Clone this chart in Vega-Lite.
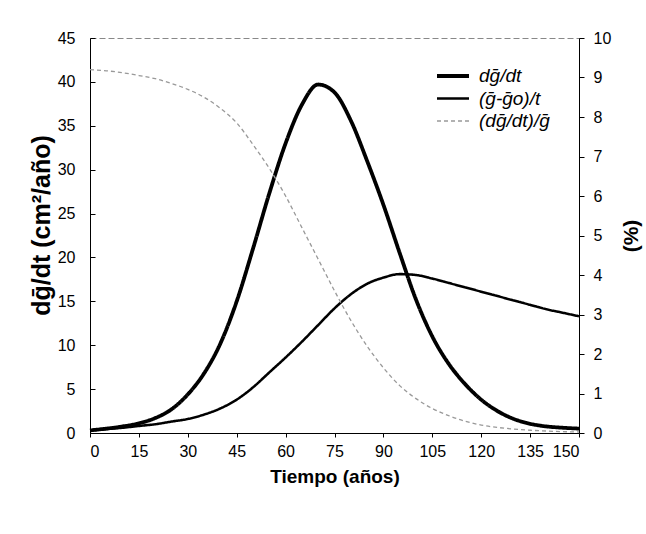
{
  "$schema": "https://vega.github.io/schema/vega-lite/v6.json",
  "width": 489,
  "height": 395,
  "autosize": {"type": "none"},
  "padding": {"left": 90, "top": 38, "right": 67, "bottom": 101},
  "background": "white",
  "config": {
    "font": "Liberation Sans",
    "view": {"stroke": "#888888", "strokeDash": [6, 3]},
    "axis": {
      "domainColor": "black",
      "tickColor": "black",
      "labelColor": "black",
      "titleColor": "black",
      "grid": false,
      "labelFont": "Liberation Sans",
      "titleFont": "Liberation Sans",
      "labelFontSize": 16,
      "titleFontSize": 19,
      "titleFontWeight": "bold"
    },
    "legend": {
      "orient": "none",
      "legendX": 351,
      "legendY": 26,
      "symbolType": "M-1.6,0H1.6",
      "symbolSize": 400,
      "labelFontSize": 19,
      "labelFontStyle": "italic",
      "labelFont": "Liberation Sans",
      "labelColor": "black",
      "labelOffset": 14,
      "rowPadding": 1
    }
  },
  "datasets": {
    "curves": [
      {"t": 0, "s": "dḡ/dt", "v": 0.3},
      {"t": 5, "s": "dḡ/dt", "v": 0.5},
      {"t": 10, "s": "dḡ/dt", "v": 0.75},
      {"t": 15, "s": "dḡ/dt", "v": 1.1},
      {"t": 20, "s": "dḡ/dt", "v": 1.7},
      {"t": 25, "s": "dḡ/dt", "v": 2.7},
      {"t": 30, "s": "dḡ/dt", "v": 4.4},
      {"t": 35, "s": "dḡ/dt", "v": 6.8},
      {"t": 40, "s": "dḡ/dt", "v": 10.2},
      {"t": 45, "s": "dḡ/dt", "v": 15.0},
      {"t": 50, "s": "dḡ/dt", "v": 21.0},
      {"t": 55, "s": "dḡ/dt", "v": 27.3},
      {"t": 60, "s": "dḡ/dt", "v": 33.0},
      {"t": 65, "s": "dḡ/dt", "v": 37.4},
      {"t": 70, "s": "dḡ/dt", "v": 39.7},
      {"t": 75, "s": "dḡ/dt", "v": 38.8},
      {"t": 80, "s": "dḡ/dt", "v": 35.6},
      {"t": 85, "s": "dḡ/dt", "v": 31.0},
      {"t": 90, "s": "dḡ/dt", "v": 26.0},
      {"t": 95, "s": "dḡ/dt", "v": 20.5},
      {"t": 100, "s": "dḡ/dt", "v": 15.2},
      {"t": 105, "s": "dḡ/dt", "v": 11.0},
      {"t": 110, "s": "dḡ/dt", "v": 7.9},
      {"t": 115, "s": "dḡ/dt", "v": 5.6},
      {"t": 120, "s": "dḡ/dt", "v": 3.8},
      {"t": 125, "s": "dḡ/dt", "v": 2.5},
      {"t": 130, "s": "dḡ/dt", "v": 1.6},
      {"t": 135, "s": "dḡ/dt", "v": 1.05},
      {"t": 140, "s": "dḡ/dt", "v": 0.75},
      {"t": 145, "s": "dḡ/dt", "v": 0.6},
      {"t": 150, "s": "dḡ/dt", "v": 0.5},
      {"t": 0, "s": "(ḡ-ḡo)/t", "v": 0.3},
      {"t": 5, "s": "(ḡ-ḡo)/t", "v": 0.45},
      {"t": 10, "s": "(ḡ-ḡo)/t", "v": 0.6},
      {"t": 15, "s": "(ḡ-ḡo)/t", "v": 0.8},
      {"t": 20, "s": "(ḡ-ḡo)/t", "v": 1.0},
      {"t": 25, "s": "(ḡ-ḡo)/t", "v": 1.3},
      {"t": 30, "s": "(ḡ-ḡo)/t", "v": 1.6},
      {"t": 35, "s": "(ḡ-ḡo)/t", "v": 2.1},
      {"t": 40, "s": "(ḡ-ḡo)/t", "v": 2.8},
      {"t": 45, "s": "(ḡ-ḡo)/t", "v": 3.8},
      {"t": 50, "s": "(ḡ-ḡo)/t", "v": 5.2},
      {"t": 55, "s": "(ḡ-ḡo)/t", "v": 6.9},
      {"t": 60, "s": "(ḡ-ḡo)/t", "v": 8.6},
      {"t": 65, "s": "(ḡ-ḡo)/t", "v": 10.4},
      {"t": 70, "s": "(ḡ-ḡo)/t", "v": 12.3},
      {"t": 75, "s": "(ḡ-ḡo)/t", "v": 14.2},
      {"t": 80, "s": "(ḡ-ḡo)/t", "v": 15.8},
      {"t": 85, "s": "(ḡ-ḡo)/t", "v": 17.0},
      {"t": 90, "s": "(ḡ-ḡo)/t", "v": 17.7},
      {"t": 95, "s": "(ḡ-ḡo)/t", "v": 18.1},
      {"t": 100, "s": "(ḡ-ḡo)/t", "v": 18.0},
      {"t": 105, "s": "(ḡ-ḡo)/t", "v": 17.6},
      {"t": 110, "s": "(ḡ-ḡo)/t", "v": 17.1},
      {"t": 115, "s": "(ḡ-ḡo)/t", "v": 16.6},
      {"t": 120, "s": "(ḡ-ḡo)/t", "v": 16.1},
      {"t": 125, "s": "(ḡ-ḡo)/t", "v": 15.6},
      {"t": 130, "s": "(ḡ-ḡo)/t", "v": 15.1},
      {"t": 135, "s": "(ḡ-ḡo)/t", "v": 14.6},
      {"t": 140, "s": "(ḡ-ḡo)/t", "v": 14.1},
      {"t": 145, "s": "(ḡ-ḡo)/t", "v": 13.7},
      {"t": 150, "s": "(ḡ-ḡo)/t", "v": 13.3},
      {"t": 0, "s": "(dḡ/dt)/ḡ", "v": 9.2},
      {"t": 5, "s": "(dḡ/dt)/ḡ", "v": 9.17},
      {"t": 10, "s": "(dḡ/dt)/ḡ", "v": 9.12},
      {"t": 15, "s": "(dḡ/dt)/ḡ", "v": 9.05},
      {"t": 20, "s": "(dḡ/dt)/ḡ", "v": 8.97},
      {"t": 25, "s": "(dḡ/dt)/ḡ", "v": 8.85},
      {"t": 30, "s": "(dḡ/dt)/ḡ", "v": 8.7},
      {"t": 35, "s": "(dḡ/dt)/ḡ", "v": 8.5},
      {"t": 40, "s": "(dḡ/dt)/ḡ", "v": 8.22},
      {"t": 45, "s": "(dḡ/dt)/ḡ", "v": 7.85},
      {"t": 50, "s": "(dḡ/dt)/ḡ", "v": 7.3},
      {"t": 55, "s": "(dḡ/dt)/ḡ", "v": 6.7},
      {"t": 60, "s": "(dḡ/dt)/ḡ", "v": 6.0},
      {"t": 65, "s": "(dḡ/dt)/ḡ", "v": 5.2},
      {"t": 70, "s": "(dḡ/dt)/ḡ", "v": 4.4},
      {"t": 75, "s": "(dḡ/dt)/ḡ", "v": 3.6},
      {"t": 80, "s": "(dḡ/dt)/ḡ", "v": 2.85},
      {"t": 85, "s": "(dḡ/dt)/ḡ", "v": 2.2},
      {"t": 90, "s": "(dḡ/dt)/ḡ", "v": 1.65},
      {"t": 95, "s": "(dḡ/dt)/ḡ", "v": 1.2},
      {"t": 100, "s": "(dḡ/dt)/ḡ", "v": 0.87},
      {"t": 105, "s": "(dḡ/dt)/ḡ", "v": 0.62},
      {"t": 110, "s": "(dḡ/dt)/ḡ", "v": 0.44},
      {"t": 115, "s": "(dḡ/dt)/ḡ", "v": 0.3},
      {"t": 120, "s": "(dḡ/dt)/ḡ", "v": 0.2},
      {"t": 125, "s": "(dḡ/dt)/ḡ", "v": 0.14},
      {"t": 130, "s": "(dḡ/dt)/ḡ", "v": 0.1},
      {"t": 135, "s": "(dḡ/dt)/ḡ", "v": 0.07},
      {"t": 140, "s": "(dḡ/dt)/ḡ", "v": 0.05},
      {"t": 145, "s": "(dḡ/dt)/ḡ", "v": 0.035},
      {"t": 150, "s": "(dḡ/dt)/ḡ", "v": 0.025}
    ]
  },
  "data": {"name": "curves"},
  "encoding": {
    "x": {
      "field": "t",
      "type": "quantitative",
      "scale": {"domain": [0, 150], "nice": false},
      "axis": {
        "values": [0, 15, 30, 45, 60, 75, 90, 105, 120, 135, 150],
        "title": "Tiempo (años)",
        "tickSize": 4,
        "labelPadding": 6,
        "titlePadding": 8
      }
    },
    "color": {
      "field": "s",
      "type": "nominal",
      "scale": {"domain": ["dḡ/dt", "(ḡ-ḡo)/t", "(dḡ/dt)/ḡ"], "range": ["#000000", "#000000", "#999999"]},
      "legend": {"title": null}
    },
    "strokeWidth": {
      "field": "s",
      "type": "nominal",
      "scale": {"domain": ["dḡ/dt", "(ḡ-ḡo)/t", "(dḡ/dt)/ḡ"], "range": [3.8, 1.3, 1.1]},
      "legend": {"title": null}
    },
    "strokeDash": {
      "field": "s",
      "type": "nominal",
      "scale": {"domain": ["dḡ/dt", "(ḡ-ḡo)/t", "(dḡ/dt)/ḡ"], "range": [[1, 0], [1, 0], [4, 3]]},
      "legend": {"title": null}
    }
  },
  "layer": [
    {
      "transform": [{"filter": "datum.s !== '(dḡ/dt)/ḡ'"}],
      "mark": {"type": "line", "interpolate": "monotone"},
      "encoding": {
        "y": {
          "field": "v",
          "type": "quantitative",
          "scale": {"domain": [0, 45], "nice": false},
          "axis": {
            "title": "dḡ/dt (cm²/año)",
            "titleFontSize": 25,
            "titleY": 187,
            "values": [0, 5, 10, 15, 20, 25, 30, 35, 40, 45],
            "tickSize": -5,
            "labelPadding": 20,
            "titlePadding": 3
          }
        }
      }
    },
    {
      "transform": [{"filter": "datum.s === '(dḡ/dt)/ḡ'"}],
      "mark": {"type": "line", "interpolate": "monotone"},
      "encoding": {
        "y": {
          "field": "v",
          "type": "quantitative",
          "scale": {"domain": [0, 10], "nice": false},
          "axis": {
            "orient": "right",
            "title": "(%)",
            "titleFontSize": 21,
            "titleAngle": -90,
            "values": [0, 1, 2, 3, 4, 5, 6, 7, 8, 9, 10],
            "tickSize": 5,
            "labelPadding": 9,
            "titlePadding": 31
          }
        }
      }
    }
  ],
  "resolve": {"scale": {"y": "independent"}}
}
